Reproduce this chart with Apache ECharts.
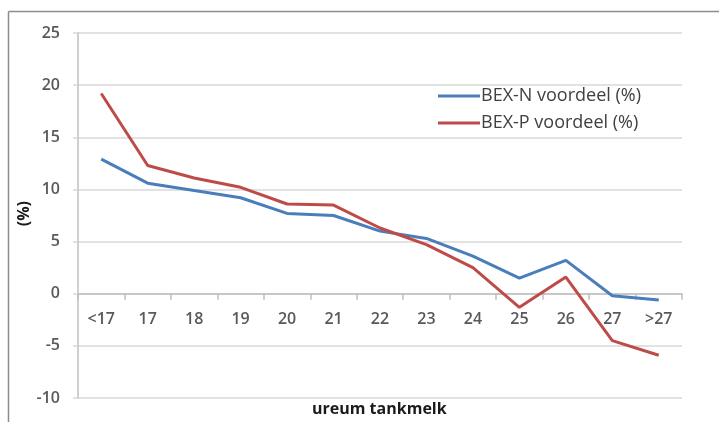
<!DOCTYPE html>
<html>
<head>
<meta charset="utf-8">
<script src="https://cdn.jsdelivr.net/npm/echarts@6/dist/echarts.min.js"></script>
<style>
  html, body { margin: 0; padding: 0; background: #fff; }
  #chart { width: 719px; height: 422px; }
</style>
</head>
<body>
<div id="chart"></div>
<script>
// Urea classes of bulk tank milk
const categories = ['<17', '17', '18', '19', '20', '21', '22', '23', '24', '25', '26', '27', '>27'];
// Advantage per scheme (%)
const bexN = [12.9, 10.6, 9.9, 9.2, 7.7, 7.5, 6.0, 5.3, 3.6, 1.5, 3.2, -0.2, -0.6];
const bexP = [19.2, 12.3, 11.1, 10.2, 8.6, 8.5, 6.3, 4.7, 2.5, -1.3, 1.6, -4.5, -5.9];
const seriesNames = ['BEX-N voordeel (%)', 'BEX-P voordeel (%)'];
const yMin = -10, yMax = 25, yStep = 5;

const FONT = '"Open Sans", Lato, sans-serif';
const GRID_TOP = 33, GRID_BOTTOM = 24, HEIGHT = 422;
// distance from the bottom edge of the plot up to the value 0
const plotH = HEIGHT - GRID_TOP - GRID_BOTTOM;
const zeroOffset = plotH * (0 - yMin) / (yMax - yMin);

const chart = echarts.init(document.getElementById('chart'), null, { renderer: 'canvas' });

chart.setOption({
  animation: false,
  backgroundColor: '#ffffff',
  textStyle: { fontFamily: FONT },
  grid: { left: 78, right: 37, top: GRID_TOP, bottom: GRID_BOTTOM, containLabel: false, outerBoundsMode: 'none' },
  legend: {
    orient: 'vertical',
    left: 438,
    top: 87,
    padding: 0,
    itemWidth: 42,
    itemHeight: 3,
    itemGap: 9,
    icon: 'rect',
    textStyle: { fontFamily: FONT, fontSize: 18, color: '#404040', padding: [0, 0, 0, -4] },
    data: seriesNames
  },
  xAxis: {
    type: 'category',
    data: categories,
    boundaryGap: true,
    offset: -zeroOffset,
    axisLine: { onZero: false, lineStyle: { color: '#bfbfbf', width: 1.5 } },
    axisTick: { show: true, length: 6, lineStyle: { color: '#bfbfbf', width: 1.5 } },
    axisLabel: { margin: 18, fontFamily: FONT, fontSize: 16, fontWeight: 600, color: '#595959' },
    splitLine: { show: false }
  },
  yAxis: {
    type: 'value',
    min: yMin,
    max: yMax,
    interval: yStep,
    axisLine: { show: true, lineStyle: { color: '#bfbfbf', width: 1.5 } },
    axisTick: { show: true, length: 5, lineStyle: { color: '#d9d9d9', width: 1.5 } },
    axisLabel: { margin: 18, fontFamily: FONT, fontSize: 16, fontWeight: 600, color: '#595959' },
    splitLine: { show: true, lineStyle: { color: '#d9d9d9', width: 1.5 } }
  },
  graphic: [
    // chart frame (left and top edges)
    { type: 'line', shape: { x1: 8.5, y1: 11.5, x2: 719, y2: 11.5 }, style: { stroke: '#8c8c8c', lineWidth: 1.5 } },
    { type: 'line', shape: { x1: 8.5, y1: 11.5, x2: 8.5, y2: 422 }, style: { stroke: '#8c8c8c', lineWidth: 1.5 } },
    {
      type: 'text', left: 16, top: 201, rotation: Math.PI / 2,
      style: { text: '(%)', font: 'bold 16px ' + FONT, fill: '#1a1a1a' }
    },
    {
      type: 'text', left: 312, top: 401,
      style: { text: 'ureum tankmelk', font: 'bold 16px ' + FONT, fill: '#1a1a1a' }
    }
  ],
  series: [
    {
      name: seriesNames[0], type: 'line', data: bexN,
      symbol: 'none', smooth: false,
      lineStyle: { color: '#4a7ebb', width: 3 },
      itemStyle: { color: '#4a7ebb' }
    },
    {
      name: seriesNames[1], type: 'line', data: bexP,
      symbol: 'none', smooth: false,
      lineStyle: { color: '#be4b48', width: 3 },
      itemStyle: { color: '#be4b48' }
    }
  ]
});
</script>
</body>
</html>
